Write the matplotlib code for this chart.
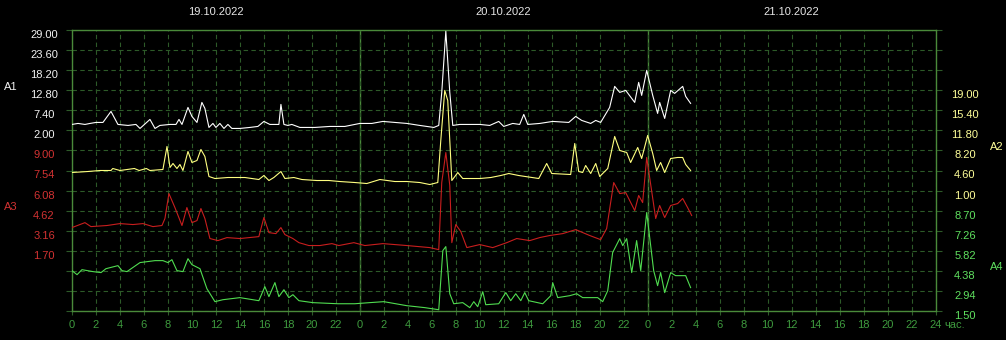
import matplotlib
matplotlib.use('Agg')
import matplotlib.pyplot as plt

# ---------------- data ----------------
dates = ['19.10.2022', '20.10.2022', '21.10.2022']
date_centers = [12, 36, 60]
hour_ticks = list(range(0, 73, 2))
hour_tick_labels = [str(h % 24) if h < 72 else '24' for h in hour_ticks]

a1_ticks = [2.00, 7.40, 12.80, 18.20, 23.60, 29.00]
a2_ticks = [1.00, 4.60, 8.20, 11.80, 15.40, 19.00]
a3_ticks = [1.70, 3.16, 4.62, 6.08, 7.54, 9.00]
a4_ticks = [1.50, 2.94, 4.38, 5.82, 7.26, 8.70]

a1_hours = [0, 0.5, 1.08, 1.5, 2.0, 2.58, 3.25, 3.83, 4.67, 5.33, 5.67, 6.5, 6.92, 7.33, 8.17, 8.67, 8.92, 9.17,
            9.67, 10.0, 10.42, 10.83, 11.08, 11.42, 11.75, 12.0, 12.33, 12.67, 13.0, 13.33, 14.0, 14.83,
            15.5, 16.0, 16.5, 17.0, 17.25, 17.42, 17.67, 18.0, 18.33, 19.0, 20.25, 21.5, 22.75, 24.0,
            25.0, 25.92, 26.92, 27.92, 29.0, 30.17, 30.58, 30.83, 31.17, 31.5, 31.75, 32.33, 33.17, 34.0,
            34.83, 35.58, 36.0, 36.75, 37.33, 37.67, 38.0, 39.0, 40.08, 41.42, 42.0, 42.5, 43.25, 43.67,
            44.08, 44.83, 45.25, 45.67, 46.17, 46.92, 47.25, 47.5, 47.92, 48.42, 48.83, 49.0, 49.42,
            49.92, 50.25, 50.92, 51.17, 51.58]
a1_values = [3.62, 3.89, 3.62, 3.89, 4.16, 4.16, 7.13, 3.62, 3.35, 3.62, 2.54, 4.97, 2.54, 3.35, 3.62, 3.62, 4.97, 3.62,
             8.21, 5.78, 4.16, 9.56, 7.94, 2.81, 3.89, 2.81, 3.89, 2.54, 3.62, 2.54, 2.54, 2.81,
             3.08, 4.43, 3.62, 3.62, 3.62, 9.02, 3.62, 3.35, 3.62, 2.81, 2.81, 3.08, 3.08, 3.89,
             3.89, 4.43, 4.16, 3.89, 3.35, 2.81, 3.35, 12.26, 28.73, 12.26, 3.35, 3.62, 3.62, 3.62,
             3.35, 4.43, 3.08, 3.89, 3.62, 6.32, 3.62, 3.89, 4.43, 4.16, 5.78, 4.70, 3.89, 4.70,
             4.16, 8.21, 13.88, 12.26, 12.80, 9.56, 14.96, 11.45, 18.20, 11.45, 6.59, 9.56, 5.24,
             12.80, 11.99, 13.88, 11.18, 9.29]

a2_hours = [0, 1.33, 2.33, 3.25, 3.4, 4.0, 5.2, 5.6, 6.2, 6.5, 7.58, 7.92, 8.17, 8.42, 8.75, 9.0, 9.25, 9.67,
            10.0, 10.42, 10.75, 11.08, 11.42, 11.92, 13.0, 14.42, 15.58, 16.0, 16.42, 16.83, 17.42, 17.75,
            18.5, 19.17, 20.42, 21.42, 22.33, 23.58, 24.58, 25.67, 26.92, 27.92, 29.0, 29.83, 30.5, 30.75,
            31.08, 31.33, 31.67, 32.17, 32.58, 34.0, 34.92, 35.75, 36.42, 37.25, 38.92, 39.58, 40.0, 41.58,
            41.92, 42.25, 42.58, 42.83, 43.25, 43.67, 44.0, 44.67, 45.25, 45.67, 46.25, 46.58, 47.17,
            47.5, 48.0, 48.42, 48.75, 49.08, 49.42, 49.92, 50.5, 50.92, 51.17, 51.58]
a2_values = [4.24, 4.42, 4.60, 4.60, 4.96, 4.60, 4.96, 4.60, 4.96, 4.60, 4.78, 8.92, 5.14, 5.86, 4.96, 5.68, 4.60, 8.02,
             6.04, 6.40, 8.38, 7.12, 3.52, 3.16, 3.34, 3.34, 2.98, 3.70, 2.80, 3.34, 4.42, 3.16,
             3.34, 2.98, 2.80, 2.80, 2.62, 2.44, 2.26, 2.98, 2.62, 2.62, 2.44, 2.08, 2.44, 10.0,
             19.0, 17.2, 2.80, 4.24, 3.16, 3.16, 3.34, 3.70, 4.06, 3.70, 3.16, 5.86, 4.06, 3.88,
             9.46, 4.42, 4.24, 5.50, 4.06, 5.86, 3.52, 4.96, 10.72, 8.20, 7.84, 6.04, 8.74,
             6.76, 10.90, 7.66, 4.60, 6.04, 4.24, 6.76, 6.94, 6.94, 5.68, 4.60]

a3_hours = [0, 1.08, 1.58, 2.92, 4.0, 5.08, 5.92, 6.75, 7.5, 7.75, 8.08, 8.58, 9.17, 9.58, 10.0, 10.42,
            10.75, 11.08, 11.5, 12.17, 12.92, 14.0, 15.58, 16.0, 16.42, 17.0, 17.42, 17.75, 18.42, 18.92,
            19.75, 20.67, 21.67, 22.25, 23.5, 24.42, 25.92, 26.92, 27.92, 29.83, 30.58, 30.83, 31.17,
            31.5, 31.67, 32.0, 32.42, 32.92, 34.0, 35.08, 36.25, 37.08, 38.17, 39.0, 39.83, 40.92, 42.0,
            43.17, 44.08, 44.58, 45.17, 45.67, 46.17, 46.92, 47.25, 47.58, 47.92, 48.67, 49.0, 49.42,
            49.92, 50.5, 50.92, 51.33, 51.67]
a3_values = [3.38, 3.74, 3.45, 3.53, 3.67, 3.60, 3.67, 3.45, 3.53, 4.04, 5.86, 4.84, 3.53, 4.84, 3.74, 3.89,
             4.77, 4.04, 2.58, 2.43, 2.65, 2.58, 2.72, 4.11, 3.01, 2.94, 3.38, 2.87, 2.58, 2.28,
             2.07, 2.07, 2.21, 2.07, 2.28, 2.07, 2.21, 2.14, 2.07, 1.92, 1.77, 6.66, 8.85,
             6.45, 2.28, 3.60, 3.09, 1.92, 2.14, 1.92, 2.28, 2.58, 2.43, 2.65, 2.80, 2.94, 3.23,
             2.80, 2.50, 3.31, 6.66, 5.86, 5.93, 4.62, 5.72, 5.20, 8.49, 4.04, 4.99, 4.11,
             4.99, 5.13, 5.50, 4.84, 4.26]

a4_hours = [0, 0.42, 0.83, 1.75, 2.42, 2.83, 3.83, 4.17, 4.58, 5.67, 6.92, 7.58, 8.0, 8.33, 8.75, 9.25,
            9.67, 10.0, 10.67, 11.25, 11.92, 12.58, 14.0, 15.08, 15.58, 16.08, 16.42, 16.92, 17.25, 17.67,
            18.08, 18.42, 18.92, 20.08, 22.17, 23.58, 24.83, 26.0, 27.92, 29.42, 30.58, 30.92, 31.17,
            31.5, 31.83, 32.58, 33.17, 33.5, 33.83, 34.25, 34.5, 35.58, 36.17, 36.58, 37.0, 37.42, 37.75,
            38.08, 39.25, 39.92, 40.08, 40.5, 41.5, 42.08, 42.58, 43.83, 44.25, 44.67, 45.08, 45.67,
            45.92, 46.25, 46.67, 47.08, 47.42, 47.92, 48.5, 48.83, 49.08, 49.42, 49.92, 50.33, 51.17, 51.58]
a4_values = [4.38, 4.09, 4.45, 4.31, 4.24, 4.52, 4.74, 4.38, 4.31, 4.96, 5.10, 5.10, 4.96, 5.17, 4.38, 4.31,
             5.24, 4.81, 4.52, 3.08, 2.15, 2.29, 2.44, 2.29, 2.22, 3.23, 2.51, 3.52, 2.51, 3.01,
             2.44, 2.65, 2.22, 2.08, 2.00, 2.00, 2.08, 2.15, 1.86, 1.72, 1.57, 5.82, 6.11,
             2.72, 2.00, 2.08, 1.72, 2.15, 1.79, 2.87, 1.93, 2.00, 2.80, 2.22, 2.72, 2.22, 2.80,
             2.22, 2.00, 2.58, 3.52, 2.44, 2.58, 2.72, 2.44, 2.44, 2.15, 2.94, 5.68, 6.68,
             6.18, 6.68, 4.24, 6.54, 4.38, 8.56, 4.38, 3.30, 4.24, 2.80, 4.24, 4.02, 4.02, 3.16]

# ---------------- styling ----------------
FONT = 'Liberation Sans'
plt.rcParams['font.family'] = [FONT, 'DejaVu Sans']
plt.rcParams['font.size'] = 8

bg = '#000000'
grid_c = '#2d5a28'
border_c = '#4a8a3a'
xlab_c = '#3e9a3e'
date_c = '#e6e6e6'

N_ROWS = 14
series = [
    (a1_hours, a1_values, a1_ticks, 9, 14, 'left', '#ffffff', '#f2f2f2', 'A1', 87),
    (a2_hours, a2_values, a2_ticks, 6, 11, 'right', '#ffff80', '#ffff99', 'A2', 147),
    (a3_hours, a3_values, a3_ticks, 3, 8, 'left', '#c81e1e', '#d23232', 'A3', 207),
    (a4_hours, a4_values, a4_ticks, 0, 5, 'right', '#50dc50', '#5fe05f', 'A4', 267),
]

W, H = 1006, 340
fig = plt.figure(figsize=(W / 100, H / 100), dpi=100, facecolor=bg)
L, R, T, B = 72, 935.5, 30.3, 310.7
ax = fig.add_axes([L / W, 1 - B / H, (R - L) / W, (B - T) / H])
ax.set_facecolor(bg)
ax.set_xlim(0, 72)
ax.set_ylim(0, N_ROWS)

for hrs, vals, ticks, r_lo, r_hi, side, lc, tc, name, ypix in series:
    t = ax.twinx()
    step = (ticks[-1] - ticks[0]) / (r_hi - r_lo)
    t.set_ylim(ticks[0] - r_lo * step, ticks[0] + (N_ROWS - r_lo) * step)
    t.plot(hrs, vals, color=lc, lw=0.8)
    t.set_yticks(ticks, labels=[f'{v:.2f}' for v in ticks], color=tc,
                 ha='center', va='top', fontsize=8)
    if side == 'left':
        t.yaxis.tick_left()
        t.tick_params(axis='y', length=0, pad=20.2)
        fig.text(11 / W, 1 - ypix / H, name, color=tc, ha='center', va='center', fontsize=8)
    else:
        t.yaxis.tick_right()
        t.tick_params(axis='y', length=0, pad=21.2)
        fig.text(997 / W, 1 - ypix / H, name, color=tc, ha='center', va='center', fontsize=8)
    for sp in t.spines.values():
        sp.set_visible(False)

# base axes: grid, borders, hour ticks
ax.set_xticks(hour_ticks, labels=hour_tick_labels)
ax.set_yticks(range(N_ROWS + 1))
ax.tick_params(axis='y', left=True, right=True, labelleft=False, labelright=False,
               length=4, width=0.8, color=grid_c)
ax.tick_params(axis='x', length=3, width=0.8, color=grid_c, labelcolor=xlab_c,
               labelsize=8, pad=4)
ax.grid(True, color=grid_c, linestyle=(0, (4, 3)), linewidth=0.8)
for sp in ax.spines.values():
    sp.set_color(border_c)
    sp.set_linewidth(1.0)
for d in (24, 48):
    ax.axvline(d, color=border_c, lw=1.0, zorder=1.5)

for d, c in zip(dates, date_centers):
    ax.annotate(d, xy=(c, 1), xycoords=('data', 'axes fraction'), xytext=(0, 13),
                textcoords='offset points', ha='center', va='center', color=date_c, fontsize=8)
ax.annotate('час.', xy=(72, 0), xycoords=('data', 'axes fraction'), xytext=(6.5, -10),
            textcoords='offset points', ha='left', va='center', color=xlab_c, fontsize=8)

fig.savefig('out.png', dpi=100, facecolor=bg)
